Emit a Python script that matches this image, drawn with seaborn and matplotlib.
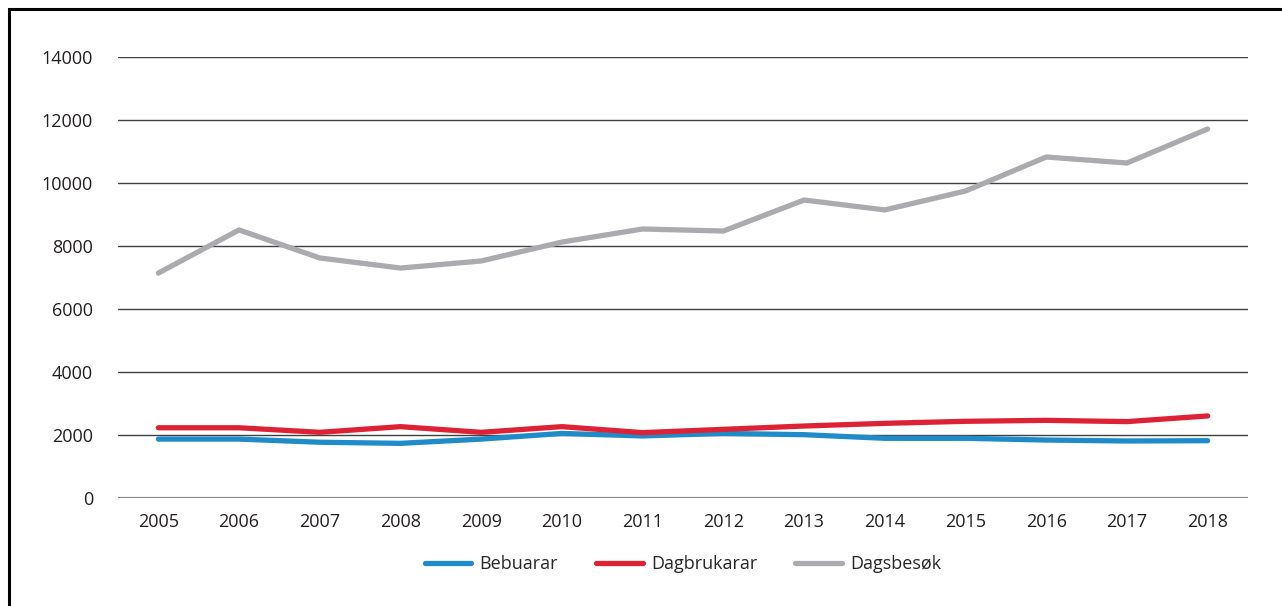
import pandas as pd
import seaborn as sns
import matplotlib.pyplot as plt
from matplotlib.patches import Rectangle

# Data
years = [2005, 2006, 2007, 2008, 2009, 2010, 2011,
         2012, 2013, 2014, 2015, 2016, 2017, 2018]
bebuarar = [1870, 1870, 1770, 1735, 1870, 2050, 1970,
            2050, 2010, 1895, 1895, 1840, 1810, 1820]
dagbrukarar = [2230, 2230, 2085, 2265, 2085, 2265, 2075,
               2180, 2285, 2370, 2435, 2465, 2425, 2605]
dagsbesok = [7140, 8510, 7620, 7300, 7525, 8125, 8540,
             8475, 9460, 9145, 9745, 10825, 10635, 11715]
series_names = ["Bebuarar", "Dagbrukarar", "Dagsbesøk"]
colors = ["#1f8bc9", "#dc2234", "#abaaae"]
yticks = [0, 2000, 4000, 6000, 8000, 10000, 12000, 14000]

df = pd.DataFrame({"year": [str(y) for y in years],
                   "Bebuarar": bebuarar,
                   "Dagbrukarar": dagbrukarar,
                   "Dagsbesøk": dagsbesok})
long = df.melt(id_vars="year", var_name="serie", value_name="value")

sns.set_theme(style="white")
plt.rcParams['font.family'] = ['Open Sans', 'DejaVu Sans']

fig = plt.figure(figsize=(12.82, 6.06), dpi=100)
ax = fig.add_axes([118 / 1282, 1 - 498 / 606, (1248 - 118) / 1282, (498 - 57) / 606])

# gridlines
for t in yticks:
    ax.axhline(t, color="#8c8c8c" if t == 0 else "#404040",
               lw=1.6 if t == 0 else 1.0, zorder=0)

sns.lineplot(data=long, x="year", y="value", hue="serie",
             hue_order=series_names, palette=colors, linewidth=3.8,
             sort=False, ax=ax, legend=True)
for line in ax.lines:
    line.set_solid_capstyle("round")

ax.set_xlim(-0.5, len(years) - 0.5)
ax.set_ylim(0, 14000)
ax.set_yticks(yticks)
ax.set_yticklabels([str(t) for t in yticks])
ax.set_xlabel("")
ax.set_ylabel("")
ax.tick_params(axis="both", labelsize=13, colors="#231f20", length=0)
ax.tick_params(axis="y", pad=18)
ax.tick_params(axis="x", pad=11)
for s in ax.spines.values():
    s.set_visible(False)

leg = ax.legend(loc="upper center", bbox_to_anchor=(0.5, -0.093), ncol=3,
                frameon=False, fontsize=13, handlelength=2.6,
                columnspacing=2.1, handletextpad=0.45)
for h in leg.get_lines():
    h.set_linewidth(3.8)
    h.set_solid_capstyle("round")

# outer frame (left and top edges visible)
fig.patches.append(Rectangle((8.5 / 1282, -0.1), 1.2, 1.1 - 9 / 606,
                             transform=fig.transFigure, fill=False,
                             edgecolor="black", lw=2.2))

fig.savefig("out.png", dpi=100)
